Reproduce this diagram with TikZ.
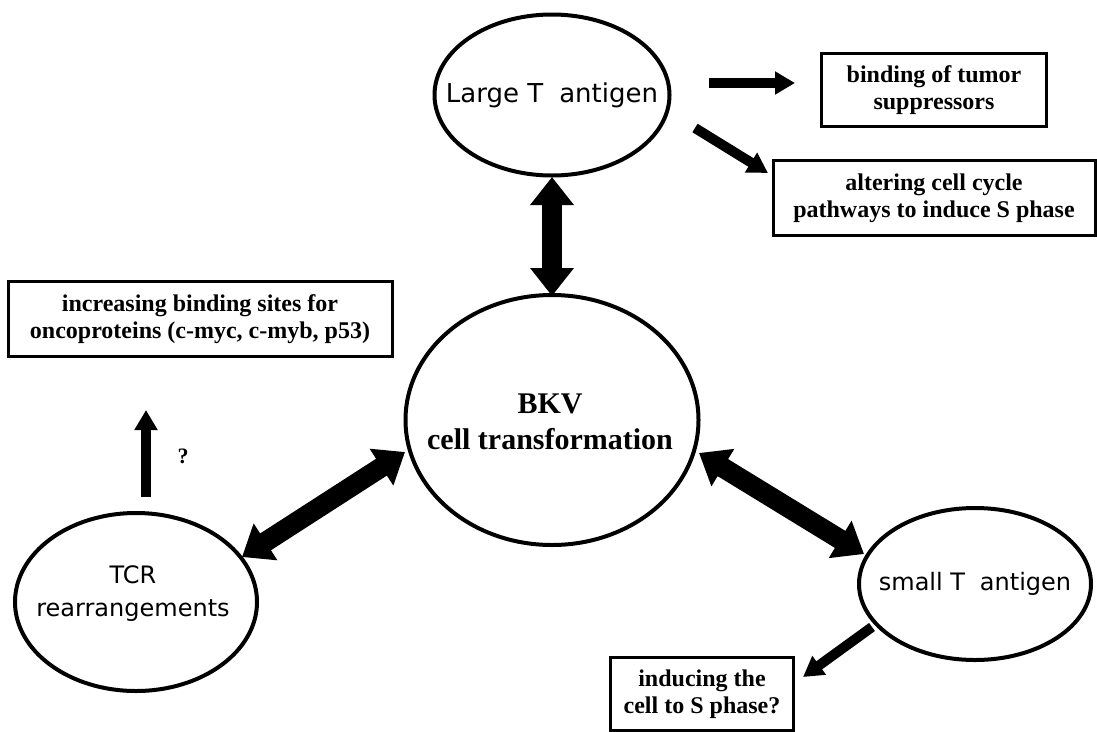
\documentclass[tikz,border=0pt]{standalone}
\usepackage{fontspec}
\setmainfont{Liberation Serif}
\newfontfamily\ellfont{DejaVu Sans}
\usetikzlibrary{arrows.meta,shapes.geometric}
\begin{document}
\begin{tikzpicture}[x=1pt,y=-1pt,
  ell/.style={draw,ellipse,line width=4pt,inner sep=0pt},
  boxn/.style={draw,line width=3pt,inner sep=0pt,font=\bfseries\fontsize{24}{27}\selectfont,align=center},
  dbl/.style={line width=20pt,{Triangle[width=42pt,length=28pt]}-{Triangle[width=42pt,length=28pt]}},
  sgl/.style={line width=10pt,-{Triangle[width=22pt,length=20pt]}},
  elltext/.style={font=\ellfont\fontsize{24}{33}\selectfont,align=center}]
\useasboundingbox (0,0) rectangle (1097,731);
% ellipses
\node[ell,minimum width=235pt,minimum height=161pt] (LT) at (552,95) {};
\node[elltext,font=\ellfont\fontsize{26}{30}\selectfont] (LTt) at (LT) {Large T\hspace{0.3em} antigen};
\node[ell,minimum width=293pt,minimum height=250pt] (BKV) at (552,420) {};
\node[font=\bfseries\fontsize{30}{36}\selectfont,align=center] (BKVt) at (550,422) {BKV\\cell transformation};
\node[ell,minimum width=242pt,minimum height=178pt] (TCR) at (136,602) {};
\node[elltext] (TCRt) at (133,594) {TCR\\rearrangements};
\node[ell,minimum width=232pt,minimum height=152pt] (ST) at (975,584) {};
\node[elltext] (STt) at (ST) {small T\hspace{0.3em} antigen};
% boxes
\node[boxn,minimum width=225pt,minimum height=73pt] (B1) at (934,90) {binding of tumor\\suppressors};
\node[boxn,minimum width=322pt,minimum height=75pt] (B2) at (934,198) {altering cell cycle\\pathways to induce S phase};
\node[boxn,minimum width=384pt,minimum height=75pt] (B3) at (200,319) {increasing binding sites for\\oncoproteins (c-myc, c-myb, p53)};
\node[boxn,minimum width=183pt,minimum height=73pt] (B4) at (702,694) {inducing the\\cell to S phase?};
% arrow end points
\coordinate (a1s) at (709,83); \coordinate (a1e) at (795,83);
\coordinate (a2s) at (695,128); \coordinate (a2e) at (768,173);
\coordinate (v1) at (552,177); \coordinate (v2) at (552,296);
\coordinate (l1) at (242,557); \coordinate (l2) at (405,452);
\coordinate (r1) at (699,453); \coordinate (r2) at (864,554);
\coordinate (u1) at (146,497); \coordinate (u2) at (146,410);
\coordinate (s1) at (872,627); \coordinate (s2) at (803,677);
\draw[sgl] (a1s) -- (a1e);
\draw[sgl] (a2s) -- (a2e);
\draw[dbl] (v1) -- (v2);
\draw[dbl] (l1) -- (l2);
\draw[dbl] (r1) -- (r2);
\draw[sgl] (u1) -- (u2);
\draw[sgl] (s1) -- (s2);
\node[font=\bfseries\fontsize{22}{22}\selectfont] (q) at (183,456) {?};
\end{tikzpicture}
\end{document}
